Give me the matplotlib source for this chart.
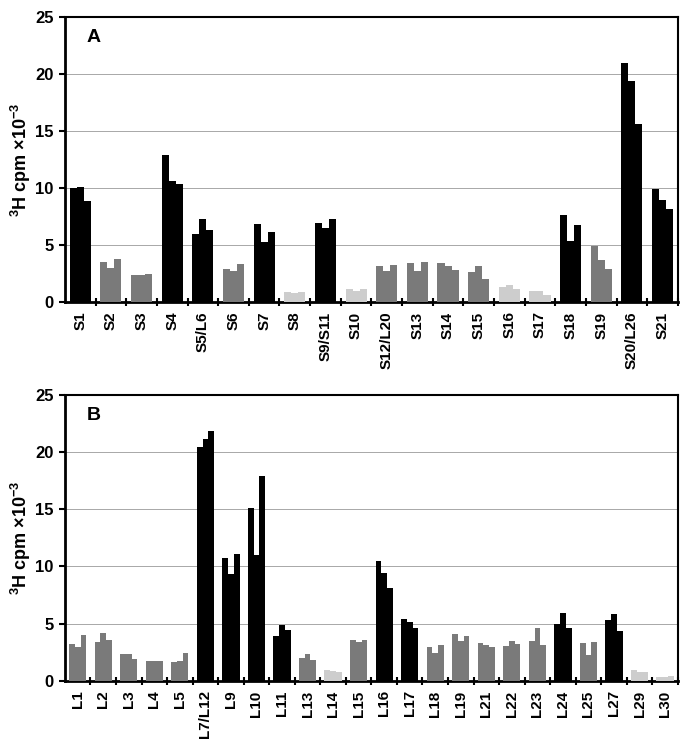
import numpy as np
import matplotlib
matplotlib.use('Agg')
import matplotlib.pyplot as plt
from matplotlib.ticker import FixedLocator

plt.rcParams['font.family'] = ['Liberation Sans', 'DejaVu Sans']
plt.rcParams['font.weight'] = 'bold'
plt.rcParams['mathtext.default'] = 'regular'

# panel A: small subunit proteins
labels_a = ['S1', 'S2', 'S3', 'S4', 'S5/L6', 'S6', 'S7', 'S8', 'S9/S11', 'S10',
            'S12/L20', 'S13', 'S14', 'S15', 'S16', 'S17', 'S18', 'S19', 'S20/L26', 'S21']
vals_a = [[10.0, 10.1, 8.8], [3.5, 3.0, 3.75], [2.3, 2.35, 2.45], [12.9, 10.6, 10.3],
          [5.9, 7.3, 6.3], [2.9, 2.65, 3.3], [6.8, 5.2, 6.1], [0.85, 0.8, 0.85],
          [6.9, 6.5, 7.3], [1.1, 0.95, 1.1], [3.1, 2.65, 3.2], [3.4, 2.7, 3.5],
          [3.4, 3.1, 2.8], [2.6, 3.15, 2.0], [1.25, 1.5, 1.1], [0.9, 0.9, 0.6],
          [7.6, 5.3, 6.7], [4.9, 3.7, 2.9], [21.0, 19.4, 15.6], [9.9, 8.9, 8.1]]
shade_a = ['k', 'd', 'd', 'k', 'k', 'd', 'k', 'l', 'k', 'l',
           'd', 'd', 'd', 'd', 'l', 'l', 'k', 'd', 'k', 'k']

# panel B: large subunit proteins
labels_b = ['L1', 'L2', 'L3', 'L4', 'L5', 'L7/L12', 'L9', 'L10', 'L11', 'L13', 'L14', 'L15',
            'L16', 'L17', 'L18', 'L19', 'L21', 'L22', 'L23', 'L24', 'L25', 'L27', 'L29', 'L30']
vals_b = [[3.2, 2.9, 4.0], [3.4, 4.2, 3.55], [2.35, 2.3, 1.9], [1.75, 1.7, 1.75],
          [1.6, 1.75, 2.4], [20.5, 21.2, 21.9], [10.7, 9.3, 11.1], [15.1, 11.0, 17.9],
          [3.9, 4.9, 4.45], [2.0, 2.3, 1.8], [0.93, 0.8, 0.75], [3.6, 3.35, 3.55],
          [10.45, 9.45, 8.15], [5.4, 5.15, 4.6], [2.9, 2.45, 3.15], [4.1, 3.5, 3.9],
          [3.3, 3.1, 2.9], [3.05, 3.5, 3.2], [3.45, 4.65, 3.1], [4.95, 5.9, 4.65],
          [3.25, 2.2, 3.35], [5.35, 5.85, 4.35], [0.95, 0.75, 0.75], [0.35, 0.35, 0.4]]
shade_b = ['d', 'd', 'd', 'd', 'd', 'k', 'k', 'k', 'k', 'd', 'l', 'd',
           'k', 'k', 'd', 'd', 'd', 'd', 'd', 'k', 'd', 'k', 'l', 'l']

colors = {'k': 'black', 'd': '#7a7a7a', 'l': '#cdcdcd'}

fig = plt.figure(figsize=(6.91, 7.43), dpi=100)
ax_a = fig.add_axes([0.094, 0.594, 0.887, 0.383])
ax_b = fig.add_axes([0.094, 0.084, 0.887, 0.384])


def draw(ax, labels, vals, shades, bw, letter):
    n = len(labels)
    x = np.arange(n)
    for i in range(n):
        for j in range(3):
            ax.bar(x[i] + (j - 1) * bw, vals[i][j], width=bw,
                   color=colors[shades[i]], edgecolor='none', zorder=3)
    ax.set_xlim(-0.5, n - 0.5)
    ax.set_ylim(0, 25)
    ax.set_yticks([0, 5, 10, 15, 20, 25])
    ax.tick_params(axis='y', labelsize=12, width=1.5, length=4, direction='out', pad=4)
    ax.set_xticks(x)
    ax.set_xticklabels(labels, rotation=90, fontsize=11, fontweight='bold')
    ax.tick_params(axis='x', which='major', length=0, pad=7)
    ax.xaxis.set_minor_locator(FixedLocator(np.arange(n) + 0.5))
    ax.tick_params(axis='x', which='minor', length=6, width=1.5, direction='inout')
    for lab in ax.get_yticklabels():
        lab.set_fontweight('bold')
    ax.grid(axis='y', color='#9a9a9a', linewidth=0.6, zorder=0)
    ax.set_axisbelow(True)
    for s in ['left', 'bottom']:
        ax.spines[s].set_linewidth(2)
    for s in ['top', 'right']:
        ax.spines[s].set_linewidth(1.5)
    ax.set_ylabel(r'$^{3}$H cpm $\times$10$^{-3}$', fontsize=13, fontweight='bold')
    ax.yaxis.set_label_coords(-0.052, 0.5)
    ax.text(0.035, 0.93, letter, transform=ax.transAxes, fontsize=14,
            fontweight='bold', va='center', ha='left')


draw(ax_a, labels_a, vals_a, shade_a, 0.23, 'A')
draw(ax_b, labels_b, vals_b, shade_b, 0.225, 'B')

fig.savefig('out.png', dpi=100)
